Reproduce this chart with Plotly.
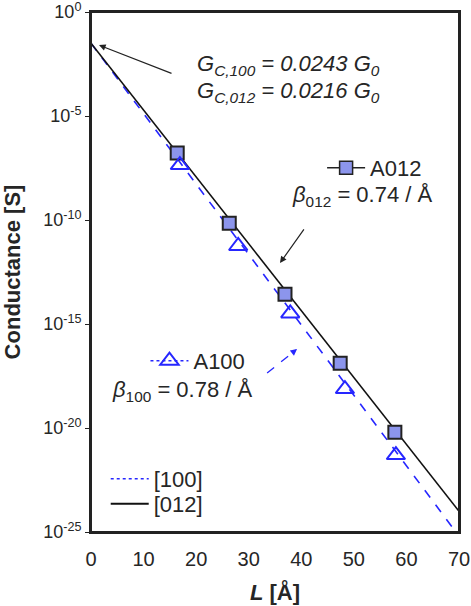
import plotly.graph_objects as go

# ---- data ----
L_A012 = [16.4, 26.3, 36.9, 47.4, 57.8]
logG_A012 = [-6.78, -10.16, -13.57, -16.89, -20.2]
L_A100 = [16.9, 28.0, 37.9, 48.3, 58.0]
logG_A100 = [-7.36, -11.25, -14.49, -18.13, -21.3]
L_fit = [0, 70]
logG_fit_012 = [-1.5, -24.0]
logG_fit_100 = [-1.5, -25.2]
ytick_exp = [0, -5, -10, -15, -20, -25]
xtick_vals = [0, 10, 20, 30, 40, 50, 60, 70]

G_A012 = [10 ** v for v in logG_A012]
G_A100 = [10 ** v for v in logG_A100]
G_fit_012 = [10 ** v for v in logG_fit_012]
G_fit_100 = [10 ** v for v in logG_fit_100]

FONT = "Arial, Liberation Sans, sans-serif"
TXT = "#262626"
BLUE = "#2626ff"
SQFILL = "#8c95ec"

fig = go.Figure()

# fit lines
fig.add_trace(go.Scatter(x=L_fit, y=G_fit_100, mode="lines", showlegend=False,
                         line=dict(color=BLUE, width=1.6, dash="dash")))
fig.add_trace(go.Scatter(x=L_fit, y=G_fit_012, mode="lines", showlegend=False,
                         line=dict(color="#111111", width=1.6)))
# data markers
fig.add_trace(go.Scatter(x=L_A012, y=G_A012, mode="markers", showlegend=False,
                         marker=dict(symbol="square", size=13, color=SQFILL,
                                     line=dict(color="#222222", width=2))))
fig.add_trace(go.Scatter(x=L_A100, y=G_A100, mode="markers", showlegend=False,
                         marker=dict(symbol="triangle-up-open", size=16, color=BLUE,
                                     line=dict(color=BLUE, width=2))))

# legend-only entries
fig.add_trace(go.Scatter(x=[None], y=[None], mode="lines+markers", name="A012", legend="legend",
                         line=dict(color="#222222", width=1.6),
                         marker=dict(symbol="square", size=13, color=SQFILL,
                                     line=dict(color="#222222", width=1.5))))
fig.add_trace(go.Scatter(x=[None], y=[None], mode="lines+markers", name="A100", legend="legend2",
                         line=dict(color=BLUE, width=1.6, dash="dot"),
                         marker=dict(symbol="triangle-up-open", size=16, color=BLUE,
                                     line=dict(color=BLUE, width=2))))
fig.add_trace(go.Scatter(x=[None], y=[None], mode="lines", name="[100]", legend="legend3",
                         line=dict(color=BLUE, width=1.6, dash="dot")))
fig.add_trace(go.Scatter(x=[None], y=[None], mode="lines", name="[012]", legend="legend4",
                         line=dict(color="#111111", width=2)))

def leg(x, y):
    return dict(x=x, y=y, xanchor="left", yanchor="middle", bgcolor="rgba(0,0,0,0)",
                font=dict(family=FONT, size=22, color=TXT), itemwidth=38, tracegroupgap=0)

annos = [
    dict(x=19.8, y=-2.55, xref="x", yref="y", xanchor="left", yanchor="middle", showarrow=False,
         text="<i>G<sub>C,100</sub> = 0.0243 G<sub>0</sub></i>", font=dict(family=FONT, size=22, color=TXT)),
    dict(x=19.8, y=-3.85, xref="x", yref="y", xanchor="left", yanchor="middle", showarrow=False,
         text="<i>G<sub>C,012</sub> = 0.0216 G<sub>0</sub></i>", font=dict(family=FONT, size=22, color=TXT)),
    dict(x=37.9, y=-8.85, xref="x", yref="y", xanchor="left", yanchor="middle", showarrow=False,
         text="<i>β</i><sub>012</sub> = 0.74 / Å", font=dict(family=FONT, size=22, color=TXT)),
    dict(x=3.6, y=-18.2, xref="x", yref="y", xanchor="left", yanchor="middle", showarrow=False,
         text="<i>β</i><sub>100</sub> = 0.78 / Å", font=dict(family=FONT, size=22, color=TXT)),
    # arrows
    dict(x=1.52, y=-1.59, ax=15.6, ay=-2.98, xref="x", yref="y", axref="x", ayref="y",
         showarrow=True, arrowhead=2, arrowsize=1.1, arrowwidth=1.2, arrowcolor="#222222", text=""),
    dict(x=35.95, y=-12.07, ax=40.7, ay=-10.38, xref="x", yref="y", axref="x", ayref="y",
         showarrow=True, arrowhead=2, arrowsize=1.1, arrowwidth=1.2, arrowcolor="#222222", text=""),
    dict(x=39.2, y=-16.2, ax=38.4, ay=-16.36, xref="x", yref="y", axref="x", ayref="y",
         showarrow=True, arrowhead=2, arrowsize=1.1, arrowwidth=1.2, arrowcolor=BLUE, text=""),
]

shapes = [
    dict(type="line", xref="x", yref="y", x0=33.5, y0=10 ** -17.36, x1=38.9, y1=10 ** -16.26,
         line=dict(color=BLUE, width=1.3, dash="dash")),
    dict(type="rect", xref="paper", yref="paper", x0=0, y0=0, x1=1, y1=1, layer="above",
         line=dict(color="#222222", width=2), fillcolor="rgba(0,0,0,0)"),
]

fig.update_layout(
    width=471, height=606,
    margin=dict(l=91, r=12, t=12, b=74),
    paper_bgcolor="white", plot_bgcolor="white",
    font=dict(family=FONT, color=TXT),
    showlegend=True,
    legend=leg(0.628, 0.70),
    legend2=leg(0.148, 0.329),
    legend3=leg(0.04, 0.102),
    legend4=leg(0.04, 0.054),
    annotations=annos,
    shapes=shapes,
    xaxis=dict(range=[0, 70], tickvals=xtick_vals, ticks="", showgrid=False, zeroline=False,
               automargin=False, ticklabelstandoff=8, ticklabeloverflow="allow",
               showline=True, mirror=True, linecolor="#222222", linewidth=2,
               tickfont=dict(family=FONT, size=20, color=TXT),
               title=dict(text="<b><i>L</i> [Å]</b>", font=dict(family=FONT, size=22, color=TXT), standoff=16)),
    yaxis=dict(type="log", range=[-25, 0], tickvals=[10 ** e for e in ytick_exp],
               ticktext=["10<sup>%d</sup>" % e for e in ytick_exp],
               automargin=False, ticklabeloverflow="allow",
               ticks="outside", ticklen=4, tickcolor="#222222", showgrid=False, zeroline=False,
               showline=True, mirror=True, linecolor="#222222", linewidth=2,
               tickfont=dict(family=FONT, size=18, color=TXT),
               title=dict(text="<b>Conductance [S]</b>", font=dict(family=FONT, size=22, color=TXT), standoff=16)),
)

fig.write_html("out.html")
